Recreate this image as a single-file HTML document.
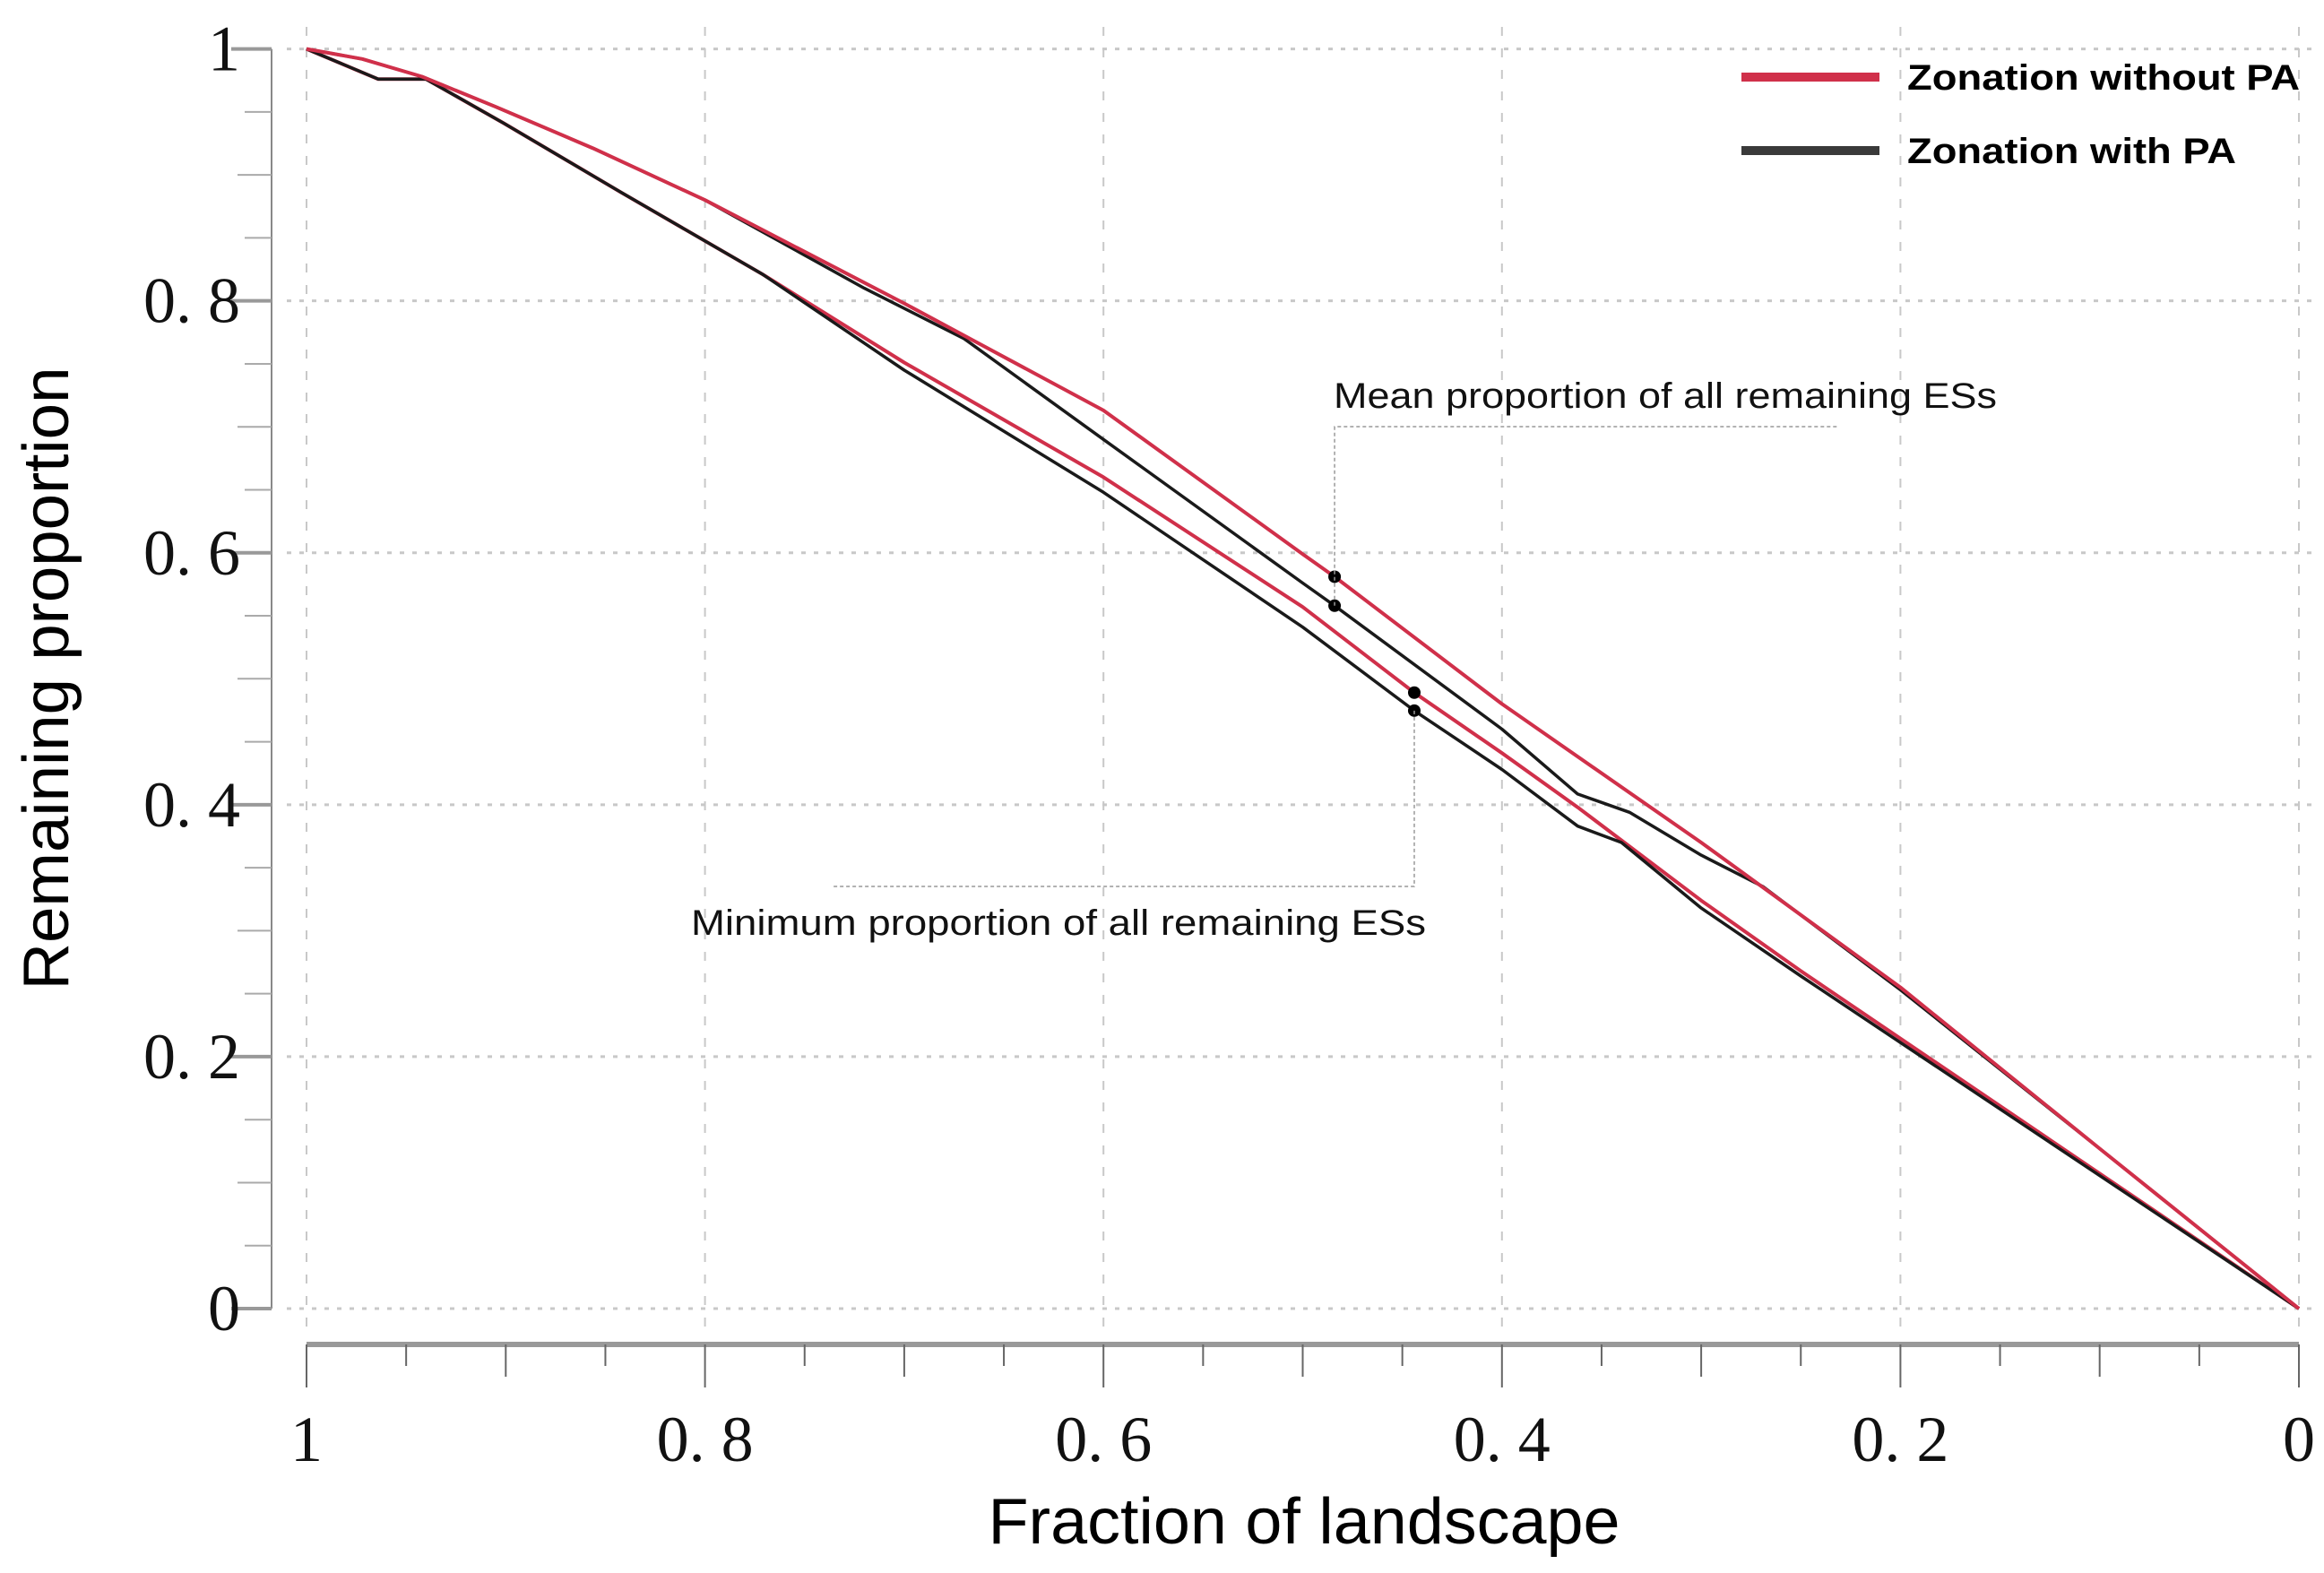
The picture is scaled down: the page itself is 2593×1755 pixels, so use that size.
<!DOCTYPE html>
<html><head><meta charset="utf-8"><style>
html,body{margin:0;padding:0;background:#fff}
svg{display:block}
.ser{font-family:"Liberation Serif",serif}
.san{font-family:"Liberation Sans",sans-serif}
</style></head><body>
<svg id="chart" width="2593" height="1755" viewBox="0 0 2593 1755">
<g id="grid"></g>
<g id="axes"></g>
<g id="series"></g>
<g id="annot">
  <text x="1488" y="455" class="san" font-size="40" fill="#111" textLength="740" lengthAdjust="spacingAndGlyphs">Mean proportion of all remaining ESs</text>
  <text x="771" y="1043" class="san" font-size="40" fill="#111" textLength="820" lengthAdjust="spacingAndGlyphs">Minimum proportion of all remaining ESs</text>
</g>
<g id="legend">
  <line x1="1943" y1="86" x2="2097" y2="86" stroke="#d0304a" stroke-width="10"/>
  <text x="2128" y="100" class="san" font-weight="bold" font-size="40" fill="#000" textLength="438" lengthAdjust="spacingAndGlyphs">Zonation without PA</text>
  <line x1="1943" y1="168" x2="2097" y2="168" stroke="#3a3a3a" stroke-width="10"/>
  <text x="2128" y="182" class="san" font-weight="bold" font-size="40" fill="#000" textLength="367" lengthAdjust="spacingAndGlyphs">Zonation with PA</text>
</g>
<text class="san" font-size="72" fill="#000" transform="translate(76,757) rotate(-90)" text-anchor="middle" textLength="695" lengthAdjust="spacingAndGlyphs">Remaining proportion</text>
<text class="san" x="1455" y="1722" font-size="72" fill="#000" text-anchor="middle" textLength="705" lengthAdjust="spacingAndGlyphs">Fraction of landscape</text>
</svg>
<script>
const xTicks=[1,0.8,0.6,0.4,0.2,0];
const xTickLabels=["1","0. 8","0. 6","0. 4","0. 2","0"];
const yTicks=[1,0.8,0.6,0.4,0.2,0];
const yTickLabels=["1","0. 8","0. 6","0. 4","0. 2","0"];
const meanNoPA_x=[1,0.972,0.942,0.905,0.856,0.8,0.7,0.6,0.5,0.484,0.4,0.3,0.2,0.1,0];
const meanNoPA_y=[1,0.992,0.978,0.954,0.921,0.88,0.798,0.713,0.599,0.581,0.48,0.37,0.255,0.127,0];
const meanPA_x=[1,0.972,0.942,0.905,0.856,0.8,0.72,0.67,0.6,0.5,0.484,0.4,0.362,0.336,0.3,0.269,0.2,0.1,0];
const meanPA_y=[1,0.992,0.978,0.954,0.921,0.88,0.81,0.77,0.69,0.576,0.558,0.46,0.4085,0.394,0.36,0.335,0.253,0.127,0];
const minNoPA_x=[1,0.964,0.94,0.901,0.842,0.771,0.7,0.6,0.5,0.444,0.4,0.362,0.3,0.25,0];
const minNoPA_y=[1,0.976,0.976,0.941,0.886,0.821,0.751,0.66,0.557,0.489,0.441,0.398,0.324,0.268,0];
const minPA_x=[1,0.964,0.94,0.901,0.842,0.771,0.7,0.6,0.5,0.444,0.4,0.362,0.34,0.3,0.25,0];
const minPA_y=[1,0.976,0.976,0.941,0.886,0.821,0.745,0.648,0.541,0.4747,0.428,0.383,0.37,0.318,0.264,0];
const markers_x=[0.484,0.484,0.444,0.444];
const markers_y=[0.581,0.558,0.489,0.4747];

const NS="http://www.w3.org/2000/svg";
const X0=342,X1=2565,Y0=1460,Y1=54.6;
function sx(v){return X1+(X0-X1)*v;}
function sy(v){return Y0+(Y1-Y0)*v;}
function mk(tag,attrs,parent){const e=document.createElementNS(NS,tag);for(const k in attrs)e.setAttribute(k,attrs[k]);parent.appendChild(e);return e;}
const grid=document.getElementById('grid'),axes=document.getElementById('axes'),series=document.getElementById('series'),annot=document.getElementById('annot');

xTicks.forEach((t,i)=>{
  const l=mk('line',{x1:sx(t),x2:sx(t),y1:30,y2:1480,stroke:'#c8c8c8','stroke-width':2,'stroke-dasharray':'10 14'},grid);
  
  
});
yTicks.forEach((t,i)=>{
  const l=mk('line',{x1:320,x2:2580,y1:sy(t),y2:sy(t),stroke:'#c8c8c8','stroke-width':3,'stroke-dasharray':'5 9'},grid);
  
  
});
let ya=mk('line',{x1:303,x2:303,y1:sy(1),y2:sy(0),stroke:'#888','stroke-width':2},axes);


for(let k=0;k<=20;k++){
  const v=k*0.05;
  const len=(k%4===0)?45:(k%2===0)?38:30;
  const t=mk('line',{x1:303-len,x2:303,y1:sy(v),y2:sy(v),stroke:(k%4===0)?'#999':'#aaa','stroke-width':(k%4===0)?4:2},axes);
  
  
}
yTicks.forEach((t,i)=>{
  const tx=mk('text',{x:268,y:sy(t)+24,'text-anchor':'end','font-size':72,fill:'#111',class:'ser'},axes);
  tx.textContent=yTickLabels[i];
  
  
});
let xa=mk('line',{x1:sx(1),x2:sx(0),y1:1500,y2:1500,stroke:'#999','stroke-width':6},axes);


for(let k=0;k<=20;k++){
  const v=k*0.05;
  const len=(k%4===0)?48:(k%2===0)?36:24;
  const t=mk('line',{x1:sx(v),x2:sx(v),y1:1500,y2:1500+len,stroke:'#666','stroke-width':2},axes);
  
  
}
xTicks.forEach((t,i)=>{
  const tx=mk('text',{x:sx(t),y:1630,'text-anchor':'middle','font-size':72,fill:'#111',class:'ser'},axes);
  tx.textContent=xTickLabels[i];
  
  
});
function pts(xs,ys){return xs.map((x,i)=>sx(x).toFixed(1)+','+sy(ys[i]).toFixed(1)).join(' ');}
let p;
p=mk('polyline',{points:pts(minNoPA_x,minNoPA_y),fill:'none',stroke:'#d0304a','stroke-width':4,'stroke-linejoin':'round'},series);


p=mk('polyline',{points:pts(minPA_x,minPA_y),fill:'none',stroke:'#1a1a1a','stroke-width':3.5,'stroke-linejoin':'round'},series);


p=mk('polyline',{points:pts(meanPA_x,meanPA_y),fill:'none',stroke:'#1a1a1a','stroke-width':3.5,'stroke-linejoin':'round'},series);


p=mk('polyline',{points:pts(meanNoPA_x,meanNoPA_y),fill:'none',stroke:'#d0304a','stroke-width':4,'stroke-linejoin':'round'},series);


let ld=mk('polyline',{points:sx(markers_x[0])+','+sy(markers_y[1])+' '+sx(markers_x[0])+',476 2051,476',fill:'none',stroke:'#999','stroke-width':1.5,'stroke-dasharray':'4 3'},annot);


ld=mk('polyline',{points:sx(markers_x[2])+','+sy(markers_y[3])+' '+sx(markers_x[2])+',989 929,989',fill:'none',stroke:'#999','stroke-width':1.5,'stroke-dasharray':'4 3'},annot);


markers_x.forEach((x,i)=>{
  const c=mk('circle',{cx:sx(x),cy:sy(markers_y[i]),r:7,fill:'#000'},series);
  
  
});
</script>
</body></html>
